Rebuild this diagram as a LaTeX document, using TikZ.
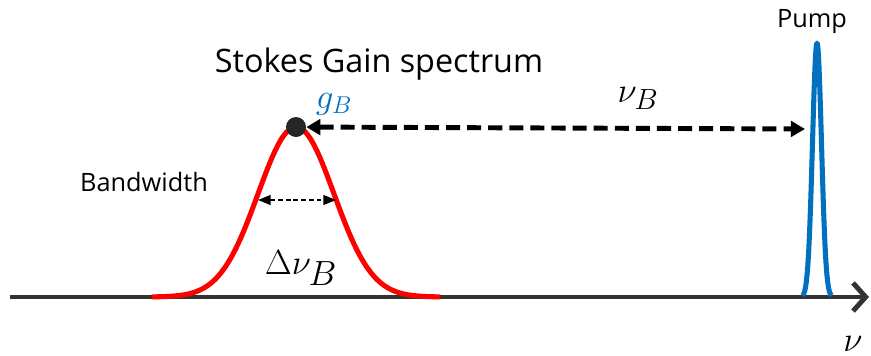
\documentclass[tikz,border=0pt]{standalone}
\usepackage{fontspec}
\setmainfont{Open Sans}
\usetikzlibrary{arrows.meta}
\definecolor{gainred}{HTML}{FF0000}
\definecolor{pumpblue}{HTML}{0070C0}
\definecolor{axisgray}{HTML}{333333}
\definecolor{dotgray}{HTML}{262626}

\begin{document}
\begin{tikzpicture}[x=0.025cm,y=-0.025cm,axisline/.style={line width=3.5pt,color=axisgray,-{Straight Barb[length=9pt,width=20pt]}},gaincurve/.style={line width=3.6pt,color=gainred,line join=round},pumpcurve/.style={line width=3.6pt,color=pumpblue,line join=round},bshiftarrow/.style={line width=3.5pt,dash pattern=on 10pt off 5pt,{Triangle[length=10pt,width=11pt]}-{Triangle[length=10pt,width=11pt]}},bwarrow/.style={line width=1.4pt,dash pattern=on 3.5pt off 2pt,{Triangle[length=9pt,width=7pt]}-{Triangle[length=9pt,width=7pt]}},peakdot/.style={circle,fill=dotgray,minimum size=0.5cm,inner sep=0pt},sidetext/.style={font=\fontsize{18}{20}\selectfont,anchor=base}]
\useasboundingbox (0,0) rectangle (871,356);
\coordinate (axstart) at (10,297);
\coordinate (axend) at (869,297);
\draw[axisline] (axstart) -- (axend);
\draw[gaincurve] plot[domain=-3.8:3.8,samples=120,smooth] ({296+38*\x},{297-170*exp(-\x*\x/2)});
\draw[pumpcurve] plot[domain=-3.2:3.2,samples=80,smooth] ({817+4.5*\x},{297-254*exp(-\x*\x/2)});
\node[peakdot] (gpeak) at (296,127) {};
\coordinate (pumpside) at (805,129);
\draw[bshiftarrow] (gpeak) -- (pumpside);
\coordinate (bwl) at (258,200);
\coordinate (bwr) at (336,200);
\draw[bwarrow] (bwl) -- (bwr);
\node[font=\fontsize{23}{26}\selectfont,anchor=base] (stokes) at (379,72) {Stokes Gain spectrum};
\node[sidetext] (pump) at (812,27) {Pump};
\node[sidetext] (bandwidth) at (144,191) {Bandwidth};
\node[anchor=base,text=pumpblue,font=\fontsize{26}{28}\selectfont] (gain) at (334,108) {$g_B$};
\node[anchor=base,font=\fontsize{32}{36}\selectfont] (shiftlbl) at (638,102) {$\nu_B$};
\node[anchor=base,font=\fontsize{34}{38}\selectfont] (linewidth) at (301,274) {$\Delta\nu_B$};
\node[anchor=base west,font=\fontsize{32}{36}\selectfont,inner sep=0pt] (freq) at (843,351) {$\nu$};
\end{tikzpicture}
\end{document}
